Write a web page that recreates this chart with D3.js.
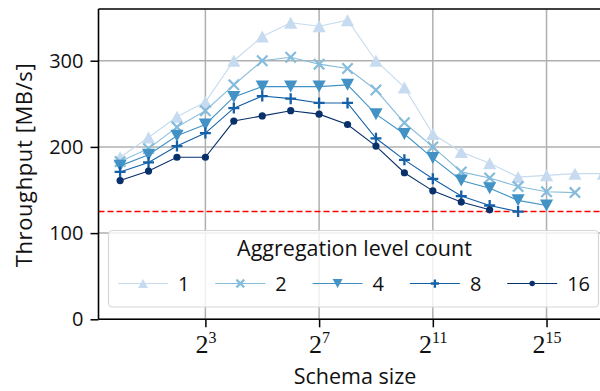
<!DOCTYPE html>
<html>
<head>
<meta charset="utf-8">
<script src="https://cdn.jsdelivr.net/npm/d3@7"></script>
<style>
  html, body { margin: 0; padding: 0; background: #fff; overflow: hidden; }
  svg { display: block; }
</style>
</head>
<body>
<div id="chart"></div>
<script>
// Throughput by schema size for several aggregation level counts
const exponents = [0,1,2,3,4,5,6,7,8,9,10,11,12,13,14,15,16,17];
const levelCounts = ["1", "2", "4", "8", "16"];
const throughput1  = [188, 211, 235, 252, 300, 328, 344, 340, 347, 300, 269, 215, 194, 181, 165, 167, 169, 169];
const throughput2  = [183, 198, 223, 242, 272, 300, 304, 296, 291, 266, 228, 200, 171, 164, 154, 148, 147];
const throughput4  = [178, 191, 213, 226, 258, 270, 270, 270, 272, 238, 215, 187, 161, 152, 138, 132];
const throughput8  = [171, 182, 201, 216, 245, 259, 256, 251, 251, 210, 185, 163, 143, 132, 125];
const throughput16 = [161, 172, 188, 188, 230, 236, 242, 238, 226, 201, 170, 149, 136, 127];
const seriesValues = [throughput1, throughput2, throughput4, throughput8, throughput16];
const seriesColors = ["#c6dbef", "#85bcdb", "#4292c6", "#1561a8", "#08306b"];
const seriesMarkers = ["triangleUp", "cross", "triangleDown", "plus", "dot"];
const yTicks = [0, 100, 200, 300];
const xTickExponents = [3, 7, 11, 15];
const referenceLine = 125;

const W = 600, H = 391;
const mLeft = 98.5, mTop = 9, mBottom = 319.3, mRight = 625;
const sansFont = "'Open Sans', Lato, sans-serif";
const serifFont = "'Liberation Serif', 'DejaVu Serif', serif";

const svg = d3.select("#chart").append("svg")
  .attr("width", W).attr("height", H);

const x = d3.scaleLog().base(2)
  .domain([Math.pow(2, -0.76), Math.pow(2, 17.76)])
  .range([mLeft, mRight]);
const y = d3.scaleLinear().domain([0, 360]).range([mBottom, mTop]);

svg.append("defs").append("clipPath").attr("id", "plotClip")
  .append("rect").attr("x", mLeft).attr("y", mTop)
  .attr("width", mRight - mLeft).attr("height", mBottom - mTop);

// grid
const grid = svg.append("g").attr("stroke", "#b0b0b0").attr("stroke-width", 1.5);
grid.selectAll(".gx").data(xTickExponents).join("line")
  .attr("x1", d => x(Math.pow(2, d))).attr("x2", d => x(Math.pow(2, d)))
  .attr("y1", mTop).attr("y2", mBottom);
grid.selectAll(".gy").data(yTicks).join("line")
  .attr("x1", mLeft).attr("x2", mRight)
  .attr("y1", d => y(d)).attr("y2", d => y(d));

// reference line
svg.append("line")
  .attr("x1", mLeft).attr("x2", mRight)
  .attr("y1", y(referenceLine)).attr("y2", y(referenceLine))
  .attr("stroke", "#ff0000").attr("stroke-width", 1.4)
  .attr("stroke-dasharray", "6,3");

// marker drawing
function drawMarker(g, kind, color, s) {
  if (kind === "triangleUp") {
    g.append("path").attr("d", `M0,${-6*s}L${6.6*s},${6*s}L${-6.6*s},${6*s}Z`).attr("fill", color);
  } else if (kind === "triangleDown") {
    g.append("path").attr("d", `M0,${6*s}L${6.6*s},${-6*s}L${-6.6*s},${-6*s}Z`).attr("fill", color);
  } else if (kind === "cross") {
    const r = 5.2 * s;
    g.append("path").attr("d", `M${-r},${-r}L${r},${r}M${-r},${r}L${r},${-r}`)
      .attr("stroke", color).attr("stroke-width", 2.2).attr("fill", "none");
  } else if (kind === "plus") {
    const r = 5.5 * s;
    g.append("path").attr("d", `M${-r},0L${r},0M0,${-r}L0,${r}`)
      .attr("stroke", color).attr("stroke-width", 2.3).attr("fill", "none");
  } else {
    g.append("circle").attr("r", 3.6 * s).attr("fill", color);
  }
}

const plot = svg.append("g").attr("clip-path", "url(#plotClip)");
const line = d3.line().x(d => x(Math.pow(2, d[0]))).y(d => y(d[1]));
seriesValues.forEach((vals, i) => {
  const pts = vals.map((v, j) => [exponents[j], v]);
  plot.append("path").datum(pts).attr("d", line)
    .attr("fill", "none").attr("stroke", seriesColors[i]).attr("stroke-width", 1.1);
  pts.forEach(p => {
    const g = plot.append("g").attr("transform", `translate(${x(Math.pow(2, p[0]))},${y(p[1])})`);
    drawMarker(g, seriesMarkers[i], seriesColors[i], 1);
  });
});

// axes
const yAxis = svg.append("g").attr("transform", `translate(${mLeft},0)`)
  .call(d3.axisLeft(y).tickValues(yTicks).tickSize(8).tickPadding(7));
yAxis.select(".domain").remove();
yAxis.selectAll(".tick line").attr("stroke", "#000").attr("stroke-width", 1.5);
yAxis.selectAll(".tick text").attr("font-family", sansFont).attr("font-size", 20).attr("fill", "#111");

const xAxis = svg.append("g").attr("transform", `translate(0,${mBottom})`)
  .call(d3.axisBottom(x).tickValues(xTickExponents.map(e => Math.pow(2, e))).tickSize(8).tickFormat(""));
xAxis.select(".domain").remove();
xAxis.selectAll(".tick line").attr("stroke", "#000").attr("stroke-width", 1.5);
xAxis.selectAll(".tick").each(function(d) {
  const t = d3.select(this).append("text")
    .attr("y", 34).attr("text-anchor", "middle")
    .attr("font-family", serifFont).attr("fill", "#111");
  t.append("tspan").attr("font-size", 26).text("2");
  t.append("tspan").attr("font-size", 16).attr("dy", -10).text(String(Math.round(Math.log2(d))));
});

// spines
const spines = svg.append("g").attr("stroke", "#000").attr("stroke-width", 1.6);
spines.append("line").attr("x1", mLeft).attr("x2", mLeft).attr("y1", mTop).attr("y2", mBottom);
spines.append("line").attr("x1", mLeft).attr("x2", mRight).attr("y1", mBottom).attr("y2", mBottom);
spines.append("line").attr("x1", mLeft).attr("x2", mRight).attr("y1", mTop).attr("y2", mTop);

// axis titles
svg.append("text").attr("x", 355).attr("y", 384).attr("text-anchor", "middle")
  .attr("font-family", sansFont).attr("font-size", 21.5).attr("fill", "#111").text("Schema size");
svg.append("text").attr("transform", "translate(31.5,165) rotate(-90)").attr("text-anchor", "middle")
  .attr("font-family", sansFont).attr("font-size", 22).attr("letter-spacing", 0.6)
  .attr("fill", "#111").text("Throughput [MB/s]");

// legend
const legend = svg.append("g");
legend.append("rect").attr("x", 108.5).attr("y", 230.5).attr("width", 490).attr("height", 76.5)
  .attr("rx", 4).attr("fill", "#fff").attr("fill-opacity", 0.8)
  .attr("stroke", "#d6d6d6").attr("stroke-width", 1.2);
legend.append("text").attr("x", 354.5).attr("y", 256).attr("text-anchor", "middle")
  .attr("font-family", sansFont).attr("font-size", 21.5).attr("fill", "#111").text("Aggregation level count");
levelCounts.forEach((lab, i) => {
  const x0 = 118 + i * 97.3, yy = 283.5;
  const g = legend.append("g");
  g.append("line").attr("x1", x0).attr("x2", x0 + 50).attr("y1", yy).attr("y2", yy)
    .attr("stroke", seriesColors[i]).attr("stroke-width", 1.1);
  const m = g.append("g").attr("transform", `translate(${x0 + 25},${yy})`);
  drawMarker(m, seriesMarkers[i], seriesColors[i], 0.75);
  g.append("text").attr("x", x0 + 60).attr("y", yy + 7.5)
    .attr("font-family", sansFont).attr("font-size", 20).attr("fill", "#111").text(lab);
});
</script>
</body>
</html>
